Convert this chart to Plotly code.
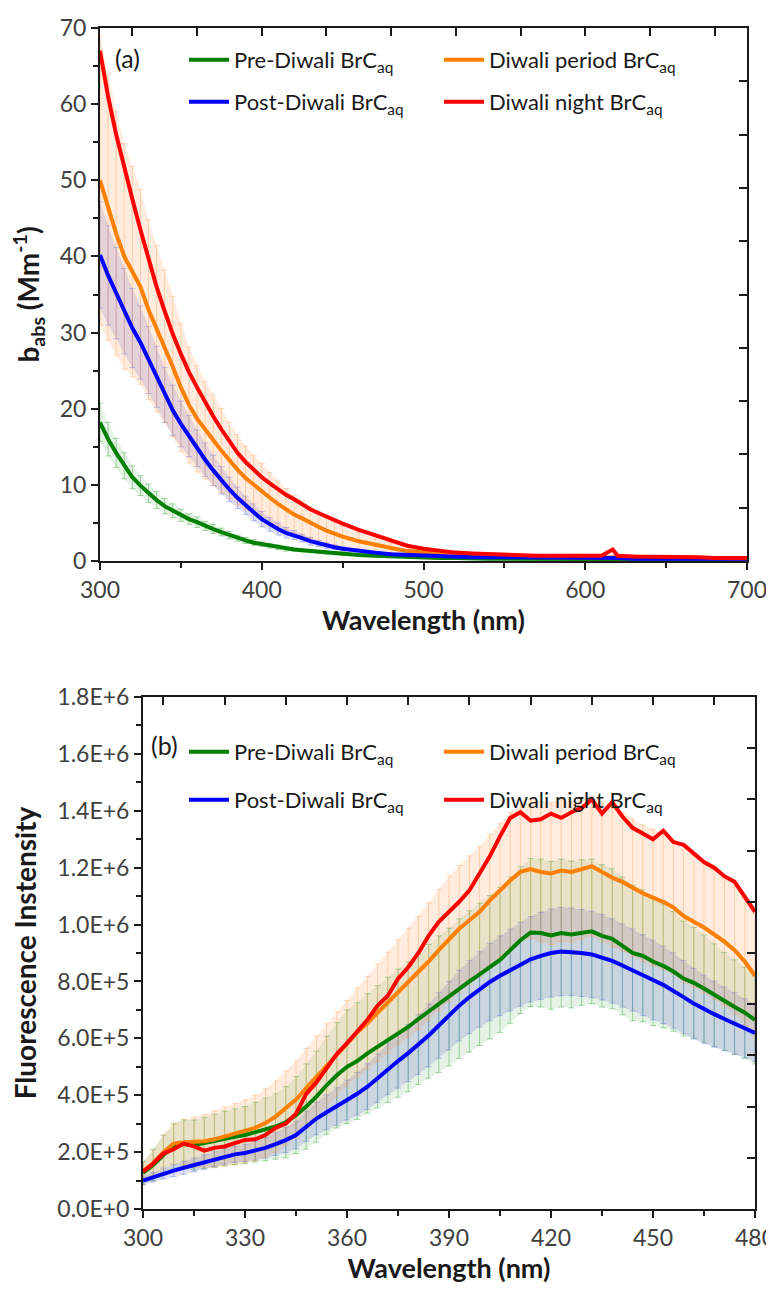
import plotly.graph_objects as go

# ---------------- panel (a): absorption ----------------
wl_a = [300, 305, 310, 315, 320, 325, 330, 335, 340, 345, 350, 355, 360, 365, 370,
        375, 380, 385, 390, 395, 400, 405, 410, 415, 420, 425, 430, 435, 440, 445,
        450, 460, 470, 480, 490, 500, 510, 520, 530, 540, 550, 560, 570, 580, 590,
        600, 610, 617, 620, 630, 640, 650, 660, 670, 680, 690, 700]

pre_a = [18.2, 16.0, 14.2, 12.5, 11.0, 9.9, 8.9, 8.0, 7.2, 6.6, 6.0, 5.5, 5.1, 4.6, 4.2,
         3.8, 3.4, 3.0, 2.7, 2.4, 2.2, 2.0, 1.8, 1.6, 1.5, 1.4, 1.3, 1.2, 1.1, 1.0,
         0.9, 0.8, 0.7, 0.6, 0.5, 0.4, 0.4, 0.4, 0.3, 0.3, 0.3, 0.3, 0.3, 0.3, 0.3,
         0.3, 0.3, 0.3, 0.3, 0.3, 0.3, 0.3, 0.2, 0.2, 0.2, 0.2, 0.2]
pre_a_err = [2.5, 2.2, 1.9, 1.7, 1.5, 1.3, 1.2, 1.1, 1.0, 0.9, 0.8, 0.7, 0.7, 0.6, 0.6,
             0.5, 0.5, 0.4, 0.4, 0.4, 0.3, 0.3, 0.3, 0.3, 0.2, 0.2, 0.2, 0.2, 0.2, 0.2,
             0.2, 0.2, 0.1, 0.1, 0.1, 0.1, 0.1, 0.1, 0.1, 0.1, 0.1, 0.1, 0.1, 0.1, 0.1,
             0.1, 0.1, 0.1, 0.1, 0.1, 0.1, 0.1, 0.1, 0.1, 0.1, 0.1, 0.1]

post_a = [40.2, 37.5, 35.2, 32.8, 30.6, 28.7, 26.4, 24.2, 21.8, 19.8, 18.0, 16.4, 14.8, 13.3, 11.9,
          10.6, 9.4, 8.3, 7.3, 6.4, 5.5, 4.8, 4.2, 3.7, 3.4, 3.0, 2.6, 2.3, 2.0, 1.8,
          1.6, 1.3, 1.1, 0.9, 0.8, 0.7, 0.6, 0.6, 0.5, 0.5, 0.5, 0.4, 0.4, 0.4, 0.4,
          0.4, 0.4, 0.4, 0.4, 0.3, 0.3, 0.3, 0.3, 0.3, 0.3, 0.3, 0.3]
post_a_err = [7.0, 6.5, 6.0, 5.6, 5.2, 4.8, 4.4, 4.0, 3.6, 3.3, 3.0, 2.7, 2.4, 2.2, 2.0,
              1.8, 1.6, 1.4, 1.2, 1.1, 1.0, 0.9, 0.8, 0.7, 0.6, 0.5, 0.5, 0.4, 0.4, 0.3,
              0.3, 0.3, 0.2, 0.2, 0.2, 0.2, 0.1, 0.1, 0.1, 0.1, 0.1, 0.1, 0.1, 0.1, 0.1,
              0.1, 0.1, 0.1, 0.1, 0.1, 0.1, 0.1, 0.1, 0.1, 0.1, 0.1, 0.1]

period_a = [50.0, 46.5, 43.0, 40.0, 38.0, 36.0, 33.0, 30.5, 28.2, 25.5, 22.8, 20.5, 18.7, 17.2, 15.9,
            14.5, 13.2, 12.0, 10.9, 10.0, 9.2, 8.3, 7.5, 6.8, 6.1, 5.6, 5.0, 4.5, 4.0, 3.6,
            3.2, 2.6, 2.1, 1.7, 1.3, 1.1, 0.9, 0.8, 0.7, 0.7, 0.6, 0.6, 0.6, 0.5, 0.5,
            0.5, 0.5, 0.5, 0.5, 0.5, 0.4, 0.4, 0.4, 0.4, 0.4, 0.3, 0.3]
period_a_err = [19.0, 17.5, 16.0, 14.8, 13.8, 12.8, 11.8, 10.9, 10.0, 9.2, 8.4, 7.6, 7.0, 6.4, 6.0,
                5.5, 5.0, 4.6, 4.2, 3.9, 3.6, 3.3, 3.0, 2.7, 2.5, 2.3, 2.1, 1.9, 1.7, 1.5,
                1.4, 1.1, 0.9, 0.7, 0.6, 0.5, 0.4, 0.4, 0.3, 0.3, 0.3, 0.3, 0.3, 0.3, 0.3,
                0.3, 0.3, 0.3, 0.3, 0.3, 0.3, 0.3, 0.3, 0.2, 0.2, 0.2, 0.2]

night_a = [67.0, 61.0, 56.0, 51.5, 47.5, 43.5, 39.5, 36.0, 32.8, 29.8, 27.2, 24.8, 22.8, 20.8, 19.0,
           17.3, 15.7, 14.2, 13.0, 12.0, 11.0, 10.2, 9.4, 8.7, 8.1, 7.4, 6.8, 6.3, 5.8, 5.3,
           4.9, 4.1, 3.4, 2.6, 2.0, 1.6, 1.3, 1.1, 1.0, 0.9, 0.8, 0.8, 0.7, 0.7, 0.7,
           0.6, 0.7, 1.5, 0.7, 0.6, 0.6, 0.5, 0.5, 0.5, 0.4, 0.4, 0.4]

# ---------------- panel (b): fluorescence (values in 1E+5) ----------------
wl_b = [300, 303, 306, 309, 312, 315, 318, 321, 324, 327, 330, 333, 336, 339, 342,
        345, 348, 351, 354, 357, 360, 363, 366, 369, 372, 375, 378, 381, 384, 387,
        390, 393, 396, 399, 402, 405, 408, 411, 414, 417, 420, 423, 426, 429, 432,
        435, 438, 441, 444, 447, 450, 453, 456, 459, 462, 465, 468, 471, 474, 477, 480]

pre_b = [1.27, 1.55, 1.90, 2.19, 2.28, 2.25, 2.32, 2.40, 2.48, 2.54, 2.60, 2.70, 2.80, 2.90, 3.05,
         3.30, 3.60, 3.95, 4.35, 4.70, 5.00, 5.20, 5.47, 5.70, 5.95, 6.18, 6.40, 6.68, 6.95, 7.20,
         7.45, 7.75, 8.00, 8.25, 8.50, 8.76, 9.10, 9.45, 9.72, 9.70, 9.62, 9.70, 9.65, 9.72, 9.76,
         9.60, 9.50, 9.25, 9.00, 8.90, 8.70, 8.55, 8.35, 8.10, 7.95, 7.75, 7.52, 7.30, 7.10, 6.90, 6.65]
pre_b_err = [0.40, 0.55, 0.70, 0.80, 0.85, 0.88, 0.90, 0.93, 0.96, 0.98, 1.00, 1.05, 1.10, 1.15, 1.25,
             1.35, 1.50, 1.60, 1.72, 1.85, 2.00, 2.05, 2.10, 2.15, 2.20, 2.25, 2.28, 2.30, 2.35, 2.40,
             2.42, 2.45, 2.48, 2.50, 2.52, 2.55, 2.57, 2.58, 2.60, 2.60, 2.60, 2.60, 2.58, 2.56, 2.54,
             2.50, 2.46, 2.42, 2.38, 2.32, 2.25, 2.18, 2.10, 2.02, 1.95, 1.88, 1.80, 1.72, 1.66, 1.60, 1.55]

post_b = [1.00, 1.12, 1.25, 1.35, 1.45, 1.55, 1.65, 1.75, 1.85, 1.92, 1.97, 2.05, 2.15, 2.28, 2.42,
          2.60, 2.90, 3.18, 3.40, 3.60, 3.83, 4.05, 4.30, 4.60, 4.92, 5.20, 5.48, 5.78, 6.10, 6.45,
          6.80, 7.15, 7.45, 7.72, 7.98, 8.20, 8.40, 8.60, 8.78, 8.90, 9.00, 9.05, 9.04, 9.00, 8.95,
          8.85, 8.72, 8.56, 8.40, 8.22, 8.05, 7.88, 7.68, 7.45, 7.22, 7.02, 6.85, 6.68, 6.52, 6.35, 6.19]
post_b_err = [0.15, 0.17, 0.19, 0.21, 0.23, 0.24, 0.25, 0.26, 0.27, 0.28, 0.30, 0.33, 0.36, 0.40, 0.44,
              0.48, 0.52, 0.57, 0.61, 0.66, 0.70, 0.75, 0.80, 0.85, 0.90, 0.95, 1.00, 1.05, 1.10, 1.15,
              1.20, 1.24, 1.28, 1.32, 1.36, 1.40, 1.44, 1.47, 1.50, 1.53, 1.55, 1.55, 1.54, 1.53, 1.52,
              1.50, 1.48, 1.46, 1.44, 1.42, 1.40, 1.36, 1.32, 1.28, 1.24, 1.20, 1.16, 1.12, 1.08, 1.04, 1.00]

period_b = [1.32, 1.62, 2.00, 2.30, 2.35, 2.35, 2.38, 2.45, 2.55, 2.63, 2.73, 2.85, 3.02, 3.25, 3.55,
            3.85, 4.25, 4.65, 5.05, 5.45, 5.83, 6.20, 6.54, 6.90, 7.25, 7.62, 7.95, 8.30, 8.70, 9.10,
            9.50, 9.85, 10.15, 10.45, 10.85, 11.20, 11.55, 11.85, 11.95, 11.85, 11.80, 11.90, 11.85, 11.95, 12.05,
            11.85, 11.65, 11.50, 11.30, 11.10, 10.95, 10.80, 10.60, 10.30, 10.10, 9.90, 9.65, 9.40, 9.10, 8.70, 8.20]
period_b_err = [0.30, 0.45, 0.60, 0.72, 0.80, 0.88, 0.94, 1.00, 1.04, 1.08, 1.10, 1.15, 1.20, 1.25, 1.30,
                1.35, 1.40, 1.43, 1.46, 1.48, 1.50, 1.57, 1.64, 1.71, 1.78, 1.85, 1.92, 1.99, 2.06, 2.13,
                2.20, 2.23, 2.26, 2.29, 2.32, 2.35, 2.38, 2.41, 2.44, 2.47, 2.50, 2.49, 2.48, 2.47, 2.46,
                2.45, 2.44, 2.43, 2.42, 2.41, 2.40, 2.38, 2.36, 2.34, 2.32, 2.30, 2.28, 2.26, 2.24, 2.22, 2.20]

night_b = [1.32, 1.60, 1.95, 2.10, 2.30, 2.20, 2.05, 2.15, 2.20, 2.30, 2.43, 2.45, 2.60, 2.85, 3.00,
           3.35, 4.05, 4.45, 4.95, 5.45, 5.83, 6.25, 6.65, 7.15, 7.50, 8.10, 8.50, 9.00, 9.60, 10.10,
           10.45, 10.80, 11.20, 11.80, 12.40, 13.10, 13.75, 13.95, 13.65, 13.70, 13.90, 13.75, 13.95, 14.10, 14.40,
           13.90, 14.30, 13.80, 13.40, 13.20, 13.00, 13.30, 12.90, 12.80, 12.50, 12.20, 12.00, 11.70, 11.50, 11.00, 10.45]

# tick labels
ytick_b_vals = [0, 2e5, 4e5, 6e5, 8e5, 1e6, 1.2e6, 1.4e6, 1.6e6, 1.8e6]
ytick_b_text = ["0.0E+0", "2.0E+5", "4.0E+5", "6.0E+5", "8.0E+5",
                "1.0E+6", "1.2E+6", "1.4E+6", "1.6E+6", "1.8E+6"]

names = ["Pre-Diwali BrC<sub>aq</sub>", "Post-Diwali BrC<sub>aq</sub>",
         "Diwali period BrC<sub>aq</sub>", "Diwali night BrC<sub>aq</sub>"]
colors = ["#008000", "#0000FF", "#FF8000", "#FF0000"]
err_colors = ["rgba(60,170,60,0.45)", "rgba(90,110,230,0.40)", "rgba(255,160,90,0.40)"]
band_colors = ["rgba(0,128,0,0.10)", "rgba(60,60,200,0.16)", "rgba(255,150,70,0.18)"]

FONT = "Lato, 'Open Sans', sans-serif"
SCALE_B = 1e5
INK = "#1a1a1a"

# the page body adds an 8px margin, so the figure is drawn a bit smaller
W, H, OFF = 766, 1282, 8


def px_x(px):
    return (px - OFF) / W


def px_y(px):
    return 1 - (px - OFF) / H


fig = go.Figure()


def add_panel(fig, wl, series, errs, xa, ya, legends, scale=1.0):
    # shaded bands first so the lines sit on top
    for vals, err, bc in zip(series[:3], errs, band_colors):
        up = [(v + e) * scale for v, e in zip(vals, err)]
        lo = [(v - e) * scale for v, e in zip(vals, err)]
        fig.add_trace(go.Scatter(x=wl + wl[::-1], y=up + lo[::-1], fill="toself",
                                 fillcolor=bc, line=dict(width=0), mode="lines",
                                 hoverinfo="skip", showlegend=False,
                                 xaxis=xa, yaxis=ya))
    for vals, err, ec in zip(series[:3], errs, err_colors):
        fig.add_trace(go.Scatter(x=wl, y=[v * scale for v in vals], mode="markers",
                                 marker=dict(size=0.1, opacity=0),
                                 error_y=dict(type="data", array=[e * scale for e in err],
                                              color=ec, thickness=1, width=3),
                                 hoverinfo="skip", showlegend=False,
                                 xaxis=xa, yaxis=ya))
    # row 1 legend: pre, period ; row 2 legend: post, night
    leg_of = [legends[0], legends[1], legends[0], legends[1]]
    for idx in [0, 2, 1, 3]:
        fig.add_trace(go.Scatter(x=wl, y=[v * scale for v in series[idx]], mode="lines",
                                 name=names[idx], line=dict(color=colors[idx], width=4),
                                 legend=leg_of[idx], xaxis=xa, yaxis=ya))


add_panel(fig, wl_a, [pre_a, post_a, period_a, night_a],
          [pre_a_err, post_a_err, period_a_err], "x", "y", ["legend", "legend3"])
add_panel(fig, wl_b, [pre_b, post_b, period_b, night_b],
          [pre_b_err, post_b_err, period_b_err], "x2", "y2", ["legend2", "legend4"], SCALE_B)

# empty traces to show inward ticks on top / right axes
fig.add_trace(go.Scatter(x=[], y=[], xaxis="x3", yaxis="y", showlegend=False))
fig.add_trace(go.Scatter(x=[], y=[], xaxis="x", yaxis="y3", showlegend=False))
fig.add_trace(go.Scatter(x=[], y=[], xaxis="x4", yaxis="y2", showlegend=False))
fig.add_trace(go.Scatter(x=[], y=[], xaxis="x2", yaxis="y4", showlegend=False))

tick_font = dict(family=FONT, size=23, color="#404040")
xtitle_font = dict(family=FONT, size=27, color=INK)
ytitle_font = dict(family=FONT, size=28, color=INK)
base = dict(showline=True, linecolor=INK, linewidth=2, showgrid=False,
            zeroline=False, tickfont=tick_font, ticks="outside", ticklen=7,
            tickwidth=1.5, tickcolor=INK, automargin=False, ticklabeloverflow="allow")
mirror = dict(ticks="inside", ticklen=8, tickwidth=1.5, tickcolor=INK, showticklabels=False,
              showline=True, linecolor=INK, linewidth=2, showgrid=False,
              zeroline=False, automargin=False)
leg_font = dict(family=FONT, size=22, color=INK)


def row_legend(x, y):
    return dict(orientation="h", x=x, y=y, xanchor="left", yanchor="middle",
                entrywidth=200, font=leg_font, bgcolor="rgba(0,0,0,0)",
                itemwidth=40, borderwidth=0)


dom_a_x = [px_x(100), px_x(747)]
dom_a_y = [px_y(561), px_y(28)]
dom_b_x = [px_x(143), px_x(755)]
dom_b_y = [px_y(1209), px_y(697)]

fig.update_layout(
    width=W, height=H, plot_bgcolor="white", paper_bgcolor="white",
    margin=dict(l=0, r=0, t=0, b=0),
    font=dict(family=FONT, color=INK),
    xaxis=dict(base, domain=dom_a_x, anchor="y", range=[300, 700], dtick=100,
               minor=dict(dtick=50, ticks="outside", ticklen=5, tickcolor=INK),
               title=dict(text="<b>Wavelength (nm)</b>", font=xtitle_font, standoff=6)),
    yaxis=dict(base, domain=dom_a_y, anchor="x", range=[0, 70], dtick=10,
               minor=dict(dtick=5, ticks="outside", ticklen=5, tickcolor=INK),
               title=dict(text="<b>b<sub>abs</sub> (Mm<sup>-1</sup>)</b>", font=ytitle_font,
                          standoff=22)),
    xaxis3=dict(mirror, overlaying="x", anchor="y", side="top", range=[300, 700], dtick=40),
    yaxis3=dict(mirror, overlaying="y", anchor="x", side="right", range=[0, 70], dtick=7),
    xaxis2=dict(base, domain=dom_b_x, anchor="y2", range=[300, 480], dtick=30,
                minor=dict(dtick=15, ticks="outside", ticklen=5, tickcolor=INK),
                title=dict(text="<b>Wavelength (nm)</b>", font=xtitle_font, standoff=6)),
    yaxis2=dict(base, domain=dom_b_y, anchor="x2", range=[0, 1.8e6],
                tickvals=ytick_b_vals, ticktext=ytick_b_text,
                minor=dict(dtick=1e5, ticks="outside", ticklen=5, tickcolor=INK),
                title=dict(text="<b>Fluorescence Instensity</b>", font=ytitle_font,
                           standoff=18)),
    xaxis4=dict(mirror, overlaying="x2", anchor="y2", side="top", range=[300, 480], dtick=18),
    yaxis4=dict(mirror, overlaying="y2", anchor="x2", side="right", range=[0, 1.8e6],
                dtick=1.8e5),
    legend=row_legend(px_x(184), px_y(60)),
    legend3=row_legend(px_x(184), px_y(102)),
    legend2=row_legend(px_x(184), px_y(752)),
    legend4=row_legend(px_x(184), px_y(800)),
    showlegend=True,
)

fig.add_annotation(text="(a)", xref="x domain", yref="y domain", x=0.02, y=0.975,
                   xanchor="left", yanchor="top", showarrow=False,
                   font=dict(family=FONT, size=25, color=INK))
fig.add_annotation(text="(b)", xref="x2 domain", yref="y2 domain", x=0.01, y=0.94,
                   xanchor="left", yanchor="top", showarrow=False,
                   font=dict(family=FONT, size=25, color=INK))

fig.write_html("out.html")
